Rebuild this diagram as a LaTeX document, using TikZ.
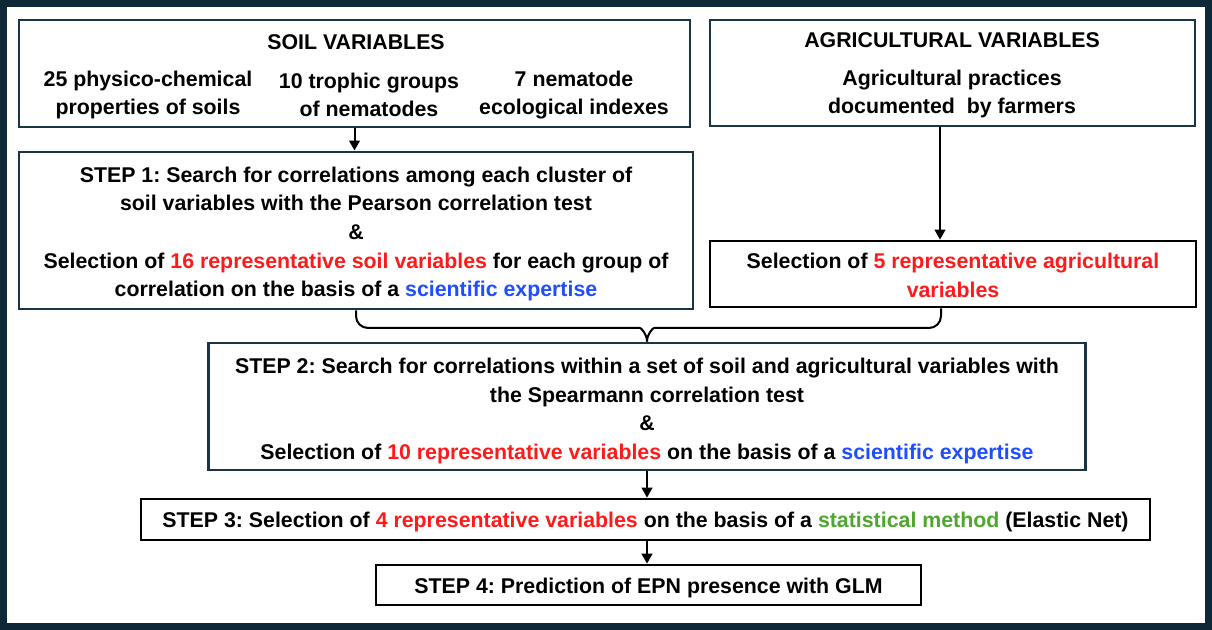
\documentclass[tikz,border=0pt]{standalone}
\usepackage{fontspec}
\setmainfont{Liberation Sans}
\usetikzlibrary{arrows.meta}
\definecolor{navy}{HTML}{0E2838}
\definecolor{boxnavy}{HTML}{1B3444}
\definecolor{hred}{HTML}{FF1A1A}
\definecolor{hblue}{HTML}{1F4EFF}
\definecolor{hgreen}{HTML}{4EA72E}
\newcommand{\rd}[1]{\textcolor{hred}{#1}}
\newcommand{\bl}[1]{\textcolor{hblue}{#1}}
\newcommand{\gr}[1]{\textcolor{hgreen}{#1}}
\frenchspacing
\begin{document}
\begin{tikzpicture}[x=0.75pt,y=-0.75pt,
  font=\bfseries\fontsize{16}{21.4}\selectfont\frenchspacing,
  navybox/.style={draw=boxnavy,line width=2.2pt,inner sep=0pt},
  blackbox/.style={draw=black,line width=2pt,inner sep=0pt},
  txt/.style={inner sep=0pt,align=center},
  arr/.style={line width=1.5pt,-{Triangle[length=7.5pt,width=8pt]}},
  bracepath/.style={line width=1.5pt,line join=round}]
\useasboundingbox (0,0) rectangle (1212,630);
\draw[navy,line width=5.25pt] (3.5,3.5) rectangle (1208.5,626.5);

% boxes
\node[navybox,minimum width=503.25pt,minimum height=80.25pt] (soil) at (354.5,73.5) {};
\node[navybox,minimum width=363.75pt,minimum height=79.5pt] (agri) at (952.5,73) {};
\node[navybox,minimum width=505.5pt,minimum height=117.75pt] (step1) at (356,230.5) {};
\node[blackbox,minimum width=364.5pt,minimum height=49.5pt] (agrisel) at (953,274) {};
\node[navybox,minimum width=657.75pt,minimum height=95.25pt] (step2) at (647,406.5) {};
\node[blackbox,minimum width=756.75pt,minimum height=30.75pt] (step3) at (645.5,519.5) {};
\node[blackbox,minimum width=408.75pt,minimum height=30pt] (step4) at (648.5,585) {};

% texts
\node[txt] (soiltitle) at (356,42) {SOIL VARIABLES};
\node[txt] (col1) at (148,95) {25 physico-chemical\\properties of soils};
\node[txt] (col2) at (369,95) {10 trophic groups\\of nematodes};
\node[txt] (col3) at (574,95) {7 nematode\\ecological indexes};

\node[txt] (agrititle) at (952,40) {AGRICULTURAL VARIABLES};
\node[txt] (agritext) at (952,94) {Agricultural practices\\documented\ \ by farmers};

\node[txt] (step1t) at (356,234)
 {STEP 1: Search for correlations among each cluster of\\
  soil variables with the Pearson correlation test\\
  \&\\
  Selection of \rd{16 representative soil variables} for each group of\\
  correlation on the basis of a \bl{scientific expertise}};

\node[txt] (agriselt) at (953,275.5)
 {Selection of \rd{5 representative agricultural}\\\rd{variables}};

\node[txt] (step2t) at (647,411)
 {STEP 2: Search for correlations within a set of soil and agricultural variables with\\
  the Spearmann correlation test\\
  \&\\
  Selection of \rd{10 representative variables} on the basis of a \bl{scientific expertise}};

\node[txt] (step3t) at (645.5,521.5)
 {STEP 3: Selection of \rd{4 representative variables} on the basis of a \gr{statistical method} (Elastic Net)};

\node[txt] (step4t) at (648.5,588)
 {STEP 4: Prediction of EPN presence with GLM};

% connectors
\coordinate (ax) at (940,0);
\coordinate (bx) at (941,0);
\draw[arr] (soil.south) -- (soil.south |- step1.north);
\draw[arr] (agri.south -| ax) -- (agrisel.north -| ax);
\draw[arr] (step2.south) -- (step2.south |- step3.north);
\draw[arr] (step3.south -| step2.south) -- (step4.north -| step2.south);

\draw[bracepath,rounded corners=9pt] (step1.south) |- (628,328)
  [sharp corners] .. controls (641,328) and (647,334) .. (step2.north);
\draw[bracepath,rounded corners=9pt] (agrisel.south -| bx) |- (666,328)
  [sharp corners] .. controls (653,328) and (647,334) .. (step2.north);
\end{tikzpicture}
\end{document}
